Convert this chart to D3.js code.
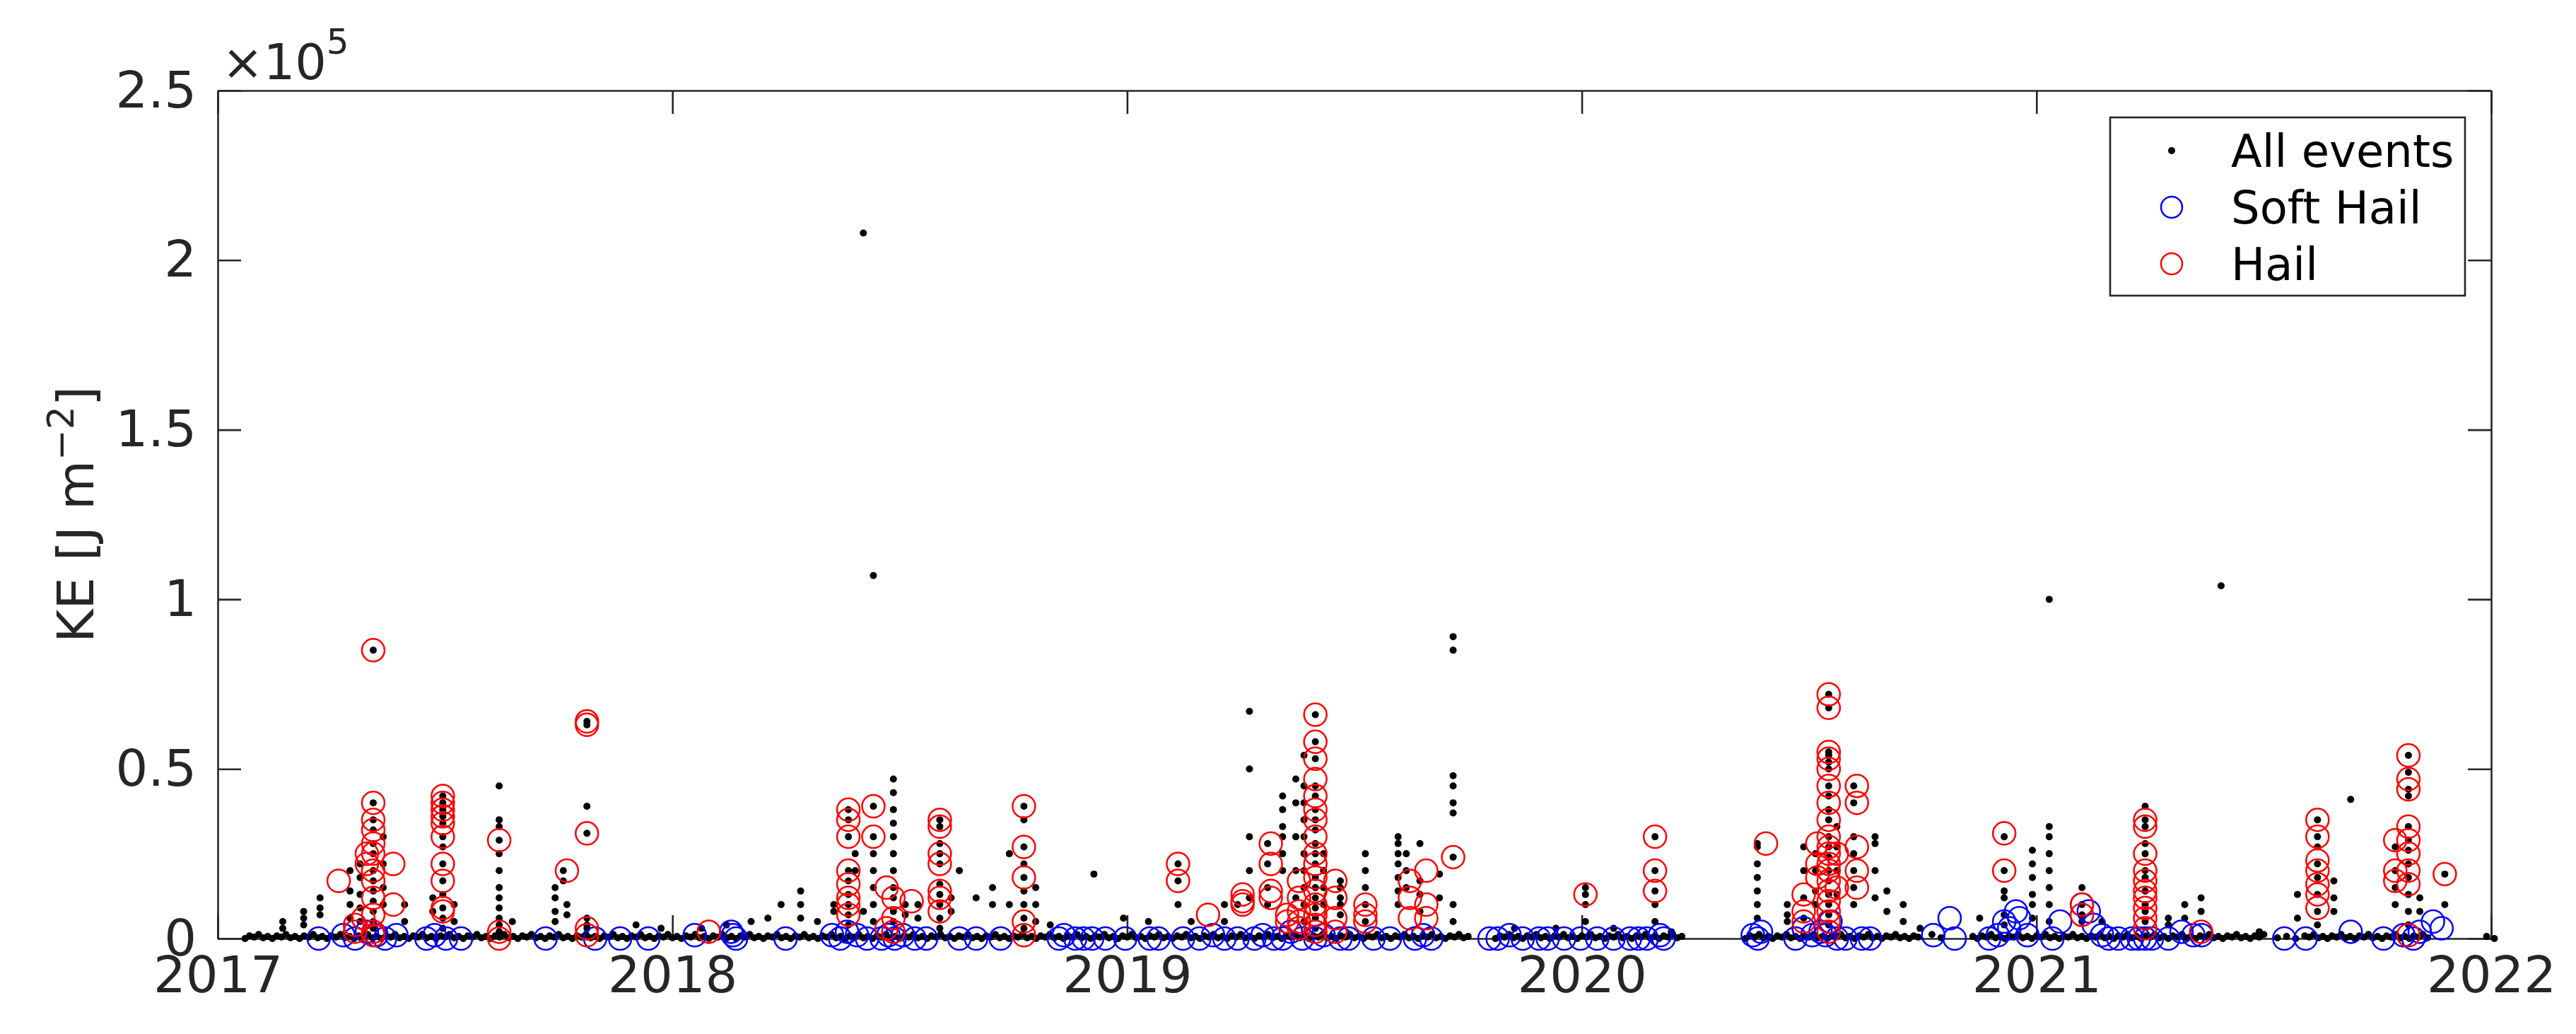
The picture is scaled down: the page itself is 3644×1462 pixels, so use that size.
<!DOCTYPE html>
<html><head><meta charset="utf-8">
<script src="https://cdn.jsdelivr.net/npm/d3@7/dist/d3.min.js"></script>
<style>html,body{margin:0;background:#fff}svg{display:block}</style>
</head><body>
<script>
// ---------- DATA (KE values in units of 1e5 J m^-2, dates as decimal years) ----------
const xTickLabels = ["2017","2018","2019","2020","2021","2022"];
const yTickLabels = ["0","0.5","1","1.5","2","2.5"];
const legendLabels = ["All events","Soft Hail","Hail"];

// near-zero background events (hundredths of a year within each year)
const base2017 = [6,7,8,9,10,11,12,13,14,15,16,17,18,19,20,21,22,23,24,25,26,27,28,29,30,31,32,33,34,35,36,37,38,39,40,41,42,43,44,45,46,47,48,49,50,51,52,53,54,55,56,57,58,59,60,61,62,63,64,65,66,67,68,69,70,71,72,73,74,75,76,77,78,79,80,81,82,83,84,85,86,87,88,89,90,91,92,93,94,95,96,97,98,99];
const base2018 = [0,1,2,3,4,5,6,7,8,9,10,11,12,13,14,15,16,17,18,19,20,21,22,23,24,25,26,27,28,29,30,31,32,33,34,35,36,37,38,39,40,41,42,43,44,45,46,47,48,49,50,51,52,53,54,55,56,57,58,59,60,61,62,63,64,65,66,67,68,69,70,71,72,73,74,75,76,77,78,79,80,81,82,83,84,85,86,87,88,89,90,91,92,93,94,95,96,97,98,99];
const base2019 = [0,1,2,3,4,5,6,7,8,9,10,11,12,13,14,15,16,17,18,19,20,21,22,23,24,25,26,27,28,29,30,31,32,33,34,35,36,37,38,39,40,41,42,43,44,45,46,47,48,49,50,51,52,53,54,55,56,57,58,59,60,61,62,63,64,65,66,67,68,69,70,71,72,73,74,75,81,82,83,84,85,86,87,88,89,90,91,92,93,94,95,96,97,98,99];
const base2020 = [0,1,2,3,4,5,6,7,8,9,10,11,12,13,14,15,16,17,18,19,20,21,22,36,37,38,39,40,41,42,43,44,45,46,47,48,49,50,51,52,53,54,55,56,57,58,59,60,61,62,63,64,65,66,67,68,69,70,71,72,73,74,77,79,86,87,88,89,90,91,92,93,94,95,96,97,98,99];
const base2021 = [0,1,2,3,4,5,6,7,8,9,10,11,12,13,14,15,16,17,18,19,20,21,22,23,24,25,26,27,28,29,30,31,32,33,34,35,36,37,38,39,40,41,42,43,44,45,46,47,48,49,50,53,55,57,59,60,61,62,63,64,65,66,67,68,69,70,71,72,73,74,75,76,77,78,79,80,81,82,83,84,85,86,99];
// small KE of the background band (cycled over the events above)
const baseLevels = [0.0, 0.008, 0.004, 0.012, 0.002, 0.006];

// vertical bursts of events: [date, [KE values]]
const burstDates = [2017.143,2017.189,2017.225,2017.291,2017.313,2017.342,2017.364,2017.411,2017.473,2017.495,2017.52,2017.619,2017.648,2017.742,2017.76,2017.768,2017.812,2017.920,2017.975,
 2018.064,2018.119,2018.173,2018.210,2018.239,2018.282,2018.319,2018.355,2018.387,2018.402,2018.420,2018.442,2018.486,2018.512,2018.54,2018.588,2018.613,2018.631,2018.668,2018.704,2018.741,2018.773,2018.799,2018.831,
 2018.927,2018.992,2019.047,2019.112,2019.141,2019.214,2019.243,2019.269,2019.309,2019.342,2019.371,2019.389,2019.414,2019.432,2019.469,2019.524,2019.596,2019.614,2019.644,2019.687,2019.717,
 2019.852,2019.943,2020.008,2020.070,2020.161,2020.197,
 2020.386,2020.452,2020.488,2020.514,2020.543,2020.561,2020.598,2020.645,2020.671,2020.707,2020.744,
 2020.875,2020.929,2020.991,2021.028,2021.1,2021.144,2021.239,2021.29,2021.326,2021.362,2021.406,2021.49,2021.574,2021.618,2021.654,2021.691,2021.789,2021.818,2021.843,2021.898,2022.007];
const burstValues = [[0.05,0.03],[0.08,0.06,0.04],[0.12,0.09,0.07],[0.2,0.14,0.1,0.06],[0.22,0.18,0.13,0.09,0.05],[0.85,0.4,0.35,0.32,0.28,0.25,0.2,0.17,0.14,0.11,0.08,0.05,0.03],[0.3,0.22,0.15,0.1],[0.1,0.05],[0.12,0.08],[0.42,0.4,0.38,0.36,0.34,0.3,0.27,0.22,0.17,0.13,0.09,0.06,0.03],[0.1,0.05],[0.45,0.35,0.33,0.29,0.25,0.2,0.15,0.12,0.09,0.06,0.04,0.02],[0.05],[0.15,0.12,0.08,0.05],[0.2,0.17],[0.1,0.07],[0.64,0.63,0.39,0.31,0.06,0.04,0.03],[0.04],[0.03],
 [0.03],[0.04],[0.05],[0.06],[0.1],[0.14,0.1,0.06],[0.05],[0.1,0.08],[0.38,0.35,0.3,0.2,0.17,0.13,0.1,0.07,0.04],[0.25,0.2],[2.08,0.08],[1.07,0.39,0.3,0.25,0.2,0.15,0.1,0.05],[0.47,0.43,0.38,0.34,0.3,0.25,0.2,0.15,0.12,0.08,0.05],[0.1,0.07],[0.1,0.06],[0.35,0.33,0.28,0.25,0.22,0.16,0.13,0.1,0.06,0.03],[0.12,0.08],[0.2],[0.12],[0.15,0.1],[0.25,0.1],[0.39,0.35,0.27,0.22,0.18,0.14,0.1,0.06,0.03],[0.15,0.1,0.05],[0.04],
 [0.19],[0.06],[0.05],[0.22,0.17,0.1],[0.05],[0.1,0.05],[0.1],[0.67,0.5,0.3,0.2,0.12],[0.28,0.22,0.15,0.1],[0.42,0.38,0.33,0.3,0.25,0.2],[0.47,0.4,0.3,0.2,0.12],[0.54,0.45,0.4,0.35,0.3,0.25,0.2,0.15,0.1,0.05],[0.66,0.58,0.53,0.45,0.42,0.38,0.35,0.32,0.28,0.25,0.22,0.18,0.15,0.12,0.09,0.06,0.03],[0.25,0.2,0.15,0.1],[0.17,0.15,0.12,0.1,0.07],[0.25,0.2,0.15,0.1,0.05],[0.3,0.28,0.25,0.22,0.18,0.14,0.1],[0.25,0.2,0.15],[0.28,0.17,0.13,0.08],[0.19,0.12],[0.89,0.85,0.48,0.45,0.4,0.37,0.24,0.1,0.05],
 [0.03],[0.03],[0.15,0.13,0.1,0.05],[0.03],[0.3,0.2,0.14,0.1,0.05],[0.02],
 [0.28,0.27,0.22,0.18,0.14,0.1,0.06],[0.1,0.07,0.05],[0.27,0.2,0.12,0.06],[0.25,0.2,0.14,0.1],[0.72,0.68,0.55,0.54,0.52,0.5,0.45,0.42,0.38,0.35,0.3,0.27,0.24,0.2,0.17,0.13,0.1,0.07,0.04],[0.33,0.27,0.2,0.13],[0.45,0.4,0.3,0.25,0.2,0.15,0.1],[0.3,0.28,0.2,0.12],[0.14,0.08],[0.1,0.05],[0.03],
 [0.06],[0.3,0.2,0.14,0.12,0.07,0.04],[0.26,0.22,0.18,0.13,0.1,0.06],[1.0,0.33,0.3,0.25,0.2,0.15,0.1,0.05],[0.15,0.1,0.07,0.05],[0.05],[0.39,0.35,0.33,0.28,0.25,0.2,0.18,0.14,0.1,0.08,0.05],[0.06,0.04],[0.1,0.06],[0.12,0.08],[1.04],[0.02],[0.13,0.06],[0.35,0.3,0.27,0.22,0.18,0.13,0.08,0.04],[0.17,0.12,0.08],[0.41],[0.27,0.2,0.15,0.1],[0.54,0.49,0.44,0.42,0.33,0.29,0.26,0.22,0.18,0.13,0.08,0.04],[0.12,0.08],[0.19,0.1],[0.0]];

// Hail events (red circles)
const hailDates = [2017.266,2017.302,2017.328,2017.342,2017.320,2017.386,2017.495,2017.619,2017.768,2017.812,2018.080,
 2018.387,2018.442,2018.471,2018.486,2018.526,2018.588,2018.773,
 2019.112,2019.178,2019.254,2019.316,2019.352,2019.378,2019.414,2019.458,2019.524,2019.622,2019.658,2019.717,
 2020.008,2020.161,2020.405,2020.488,2020.518,2020.543,2020.561,2020.605,
 2020.929,2021.100,2021.239,2021.362,2021.618,2021.789,2021.818,2021.898];
const hailValues = [[0.17],[0.04,0.02],[0.25,0.22],[0.85,0.4,0.35,0.32,0.28,0.25,0.2,0.17,0.12,0.07,0.02,0.01],[0.06],[0.22,0.1],[0.42,0.4,0.38,0.36,0.34,0.3,0.22,0.17,0.09,0.08],[0.29,0.02,0.0],[0.2],[0.64,0.63,0.31,0.03,0.01],[0.02],
 [0.38,0.35,0.3,0.2,0.16,0.12,0.1,0.07],[0.39,0.3],[0.15,0.03],[0.12,0.06,0.02],[0.11],[0.35,0.33,0.25,0.22,0.14,0.12,0.08],[0.39,0.27,0.18,0.05,0.01],
 [0.22,0.17],[0.07],[0.13,0.11,0.1],[0.28,0.22,0.14,0.12],[0.07,0.05],[0.17,0.12,0.08,0.05,0.03],[0.66,0.58,0.53,0.47,0.42,0.38,0.35,0.3,0.25,0.22,0.18,0.14,0.1,0.07,0.04,0.02],[0.17,0.12,0.06,0.02],[0.1,0.07,0.05],[0.17,0.12,0.06],[0.2,0.1,0.06],[0.24],
 [0.13],[0.3,0.2,0.14],[0.28],[0.13,0.08,0.05],[0.28,0.22,0.18],[0.72,0.68,0.55,0.53,0.5,0.45,0.4,0.35,0.3,0.27,0.25,0.22,0.2,0.17,0.14,0.11,0.08,0.05,0.02],[0.25,0.15],[0.45,0.4,0.27,0.2,0.15],
 [0.31,0.2],[0.1,0.07],[0.35,0.33,0.25,0.2,0.17,0.14,0.12,0.09,0.06,0.03],[0.02],[0.35,0.3,0.23,0.2,0.16,0.13,0.09],[0.29,0.2,0.17],[0.54,0.47,0.44,0.33,0.29,0.25,0.2,0.16,0.01],[0.19]];

// Soft hail events (blue circles)
const softDates = [2017.222,2017.276,2017.302,2017.328,2017.349,2017.368,2017.393,2017.459,2017.477,2017.502,2017.535,2017.721,2017.830,2017.885,2017.947,
 2018.049,2018.129,2018.133,2018.140,2018.249,2018.351,2018.369,2018.384,2018.406,2018.428,2018.460,2018.475,2018.489,2018.507,2018.533,2018.558,2018.631,2018.668,2018.722,
 2018.850,2018.861,2018.886,2018.904,2018.923,2018.952,2018.996,2019.050,2019.069,2019.123,2019.159,2019.189,2019.214,2019.243,2019.280,2019.298,2019.323,2019.342,2019.360,2019.385,2019.414,2019.432,2019.469,2019.487,2019.542,2019.578,2019.633,2019.651,2019.669,
 2019.797,2019.815,2019.841,2019.870,2019.906,2019.925,2019.961,2019.997,2020.034,2020.070,2020.106,2020.125,2020.143,2020.172,2020.180,
 2020.376,2020.387,2020.394,2020.470,2020.488,2020.507,2020.525,2020.536,2020.547,2020.561,2020.580,2020.616,2020.634,
 2020.773,2020.809,2020.820,2020.896,2020.915,2020.929,2020.940,2020.955,2020.962,2020.980,2021.035,2021.052,2021.100,2021.115,2021.126,2021.144,2021.159,2021.180,2021.210,2021.225,2021.239,2021.254,2021.290,2021.319,2021.345,2021.363,2021.545,2021.592,2021.691,2021.763,2021.807,2021.829,2021.843,2021.872,2021.891];
const softValues = [0,0.01,0,0.02,0.01,0,0.01,0,0.01,0,0,0,0,0,0,
 0.01,0.02,0.01,0,0,0.01,0,0.02,0.01,0,0,0.01,0,0.01,0,0,0,0,0,
 0,0.01,0,0,0,0,0,0,0,0,0,0.01,0,0,0,0.01,0,0,0.02,0,0,0.01,0,0,0,0,0,0.01,0,
 0,0,0.01,0,0,0,0,0,0,0,0,0,0,0.01,0,
 0.01,0,0.02,0,0.03,0.01,0.02,0.01,0.05,0,0,0,0,
 0.01,0.06,0,0,0.01,0.05,0.03,0.08,0.06,0.01,0,0.05,0.1,0.08,0.04,0.01,0,0,0,0,0,0,0,0.02,0.01,0.01,0,0,0.02,0,0.01,0,0.02,0.05,0.03];

// ---------- CHART ----------
const W = 3644, H = 1462;
const L = 308, R = 3524, T = 128, B = 1327;
const font = "DejaVu Sans, sans-serif", ink = "#262626";
const dotR = 5, ringR = 16;

const svg = d3.select("body").append("svg").attr("width", W).attr("height", H);
const x = d3.scaleLinear().domain([2017, 2022]).range([L, R]);
const y = d3.scaleLinear().domain([0, 2.5]).range([B, T]);

const g = svg.append("g");
svg.append("clipPath").attr("id","c").append("rect").attr("x",L-20).attr("y",T).attr("width",R-L+40).attr("height",B-T+40);

const tl = 33;
const xt = [2017,2018,2019,2020,2021,2022], yt = [0,0.5,1,1.5,2,2.5];
const xAxis = d3.axisBottom(x).tickValues(xt).tickFormat((d,i)=>xTickLabels[i]).tickSizeInner(-tl).tickSizeOuter(0).tickPadding(22);
const xTop = d3.axisTop(x).tickValues(xt).tickFormat("").tickSizeInner(-tl).tickSizeOuter(0);
const yAxis = d3.axisLeft(y).tickValues(yt).tickFormat((d,i)=>yTickLabels[i]).tickSizeInner(-tl).tickSizeOuter(0).tickPadding(30);
const yRight = d3.axisRight(y).tickValues(yt).tickFormat("").tickSizeInner(-tl).tickSizeOuter(0);

function style(sel){
  sel.selectAll("path").attr("stroke", ink).attr("stroke-width", 2.6);
  sel.selectAll("line").attr("stroke", ink).attr("stroke-width", 2.6);
  sel.selectAll("text").attr("fill", ink).attr("font-family", font).attr("font-size", 72);
}
g.append("g").attr("transform",`translate(0,${B})`).call(xAxis).call(style).selectAll("text").attr("dy","0.75em");
g.append("g").attr("transform",`translate(0,${T})`).call(xTop).call(style);
g.append("g").attr("transform",`translate(${L},0)`).call(yAxis).call(style);
g.append("g").attr("transform",`translate(${R},0)`).call(yRight).call(style);

// y label
svg.append("text").attr("transform",`translate(132,${(T+B)/2}) rotate(-90)`).attr("text-anchor","middle")
  .attr("font-family",font).attr("font-size",72).attr("fill",ink)
  .html('KE [J m<tspan dy="-28" font-size="52">−2</tspan><tspan dy="28">]</tspan>');
// exponent
svg.append("text").attr("x",L+6).attr("y",112).attr("font-family",font).attr("font-size",70).attr("fill",ink)
  .html('×10<tspan dy="-36" font-size="50">5</tspan>');

// points
const allPts = [];
let k = 0;
[[2017,base2017],[2018,base2018],[2019,base2019],[2020,base2020],[2021,base2021]].forEach(([yr,arr])=>arr.forEach(v=>{allPts.push([yr+v/100, baseLevels[k % baseLevels.length]]); k++;}));
burstDates.forEach((d,i)=>burstValues[i].forEach(v=>allPts.push([d,v])));
const hailPts = []; hailDates.forEach((d,i)=>hailValues[i].forEach(v=>hailPts.push([d,v])));
const softPts = softDates.map((d,i)=>[d,softValues[i]]);

const plot = svg.append("g").attr("clip-path","url(#c)");
plot.selectAll(".a").data(allPts).join("circle").attr("cx",d=>x(d[0])).attr("cy",d=>y(d[1])).attr("r",dotR).attr("fill","#000");
plot.selectAll(".s").data(softPts).join("circle").attr("cx",d=>x(d[0])).attr("cy",d=>y(d[1])).attr("r",ringR)
  .attr("fill","none").attr("stroke","#0000ff").attr("stroke-width",2.5);
plot.selectAll(".h").data(hailPts).join("circle").attr("cx",d=>x(d[0])).attr("cy",d=>y(d[1])).attr("r",ringR)
  .attr("fill","none").attr("stroke","#ff0000").attr("stroke-width",2.5);

// legend
const lg = svg.append("g");
lg.append("rect").attr("x",2985).attr("y",166).attr("width",502).attr("height",252).attr("fill","#fff").attr("stroke",ink).attr("stroke-width",2.6);
const ly = [213,293,373];
lg.append("circle").attr("cx",3072).attr("cy",ly[0]).attr("r",dotR).attr("fill","#000");
lg.append("circle").attr("cx",3072).attr("cy",ly[1]).attr("r",15).attr("fill","none").attr("stroke","#0000ff").attr("stroke-width",2.5);
lg.append("circle").attr("cx",3072).attr("cy",ly[2]).attr("r",15).attr("fill","none").attr("stroke","#ff0000").attr("stroke-width",2.5);
legendLabels.forEach((t,i)=>lg.append("text").attr("x",3156).attr("y",ly[i]).attr("dy","0.36em")
  .attr("font-family",font).attr("font-size",64).attr("fill","#000").text(t));
</script>
</body></html>
